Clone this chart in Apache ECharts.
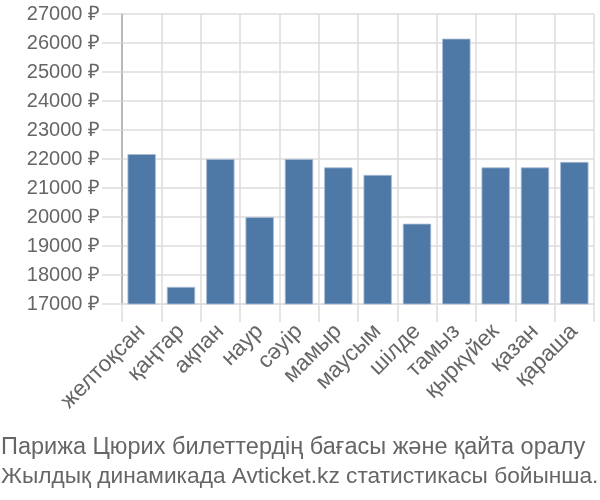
<!DOCTYPE html>
<html><head><meta charset="utf-8">
<script src="https://cdn.jsdelivr.net/npm/echarts@6/dist/echarts.min.js"></script>
<style>html,body{margin:0;padding:0;background:#fff}#c{width:600px;height:500px}</style>
</head><body><div id="c"></div>
<script>
const categories = ["желтоқсан","қаңтар","ақпан","наур","сәуір","мамыр","маусым","шілде","тамыз","қыркүйек","қазан","қараша"];
const prices = [22170, 17590, 22000, 20000, 22000, 21710, 21450, 19770, 26150, 21710, 21710, 21900];
const yMin = 17000, yMax = 27000, yStep = 1000;
const titleLines = ["Парижа Цюрих билеттердің бағасы және қайта оралу", "Жылдық динамикада Avticket.kz статистикасы бойынша."];

const chart = echarts.init(document.getElementById('c'), null, {renderer:'canvas'});
const font = '"Liberation Sans", Arial, sans-serif';
chart.setOption({
  animation: false,
  title: [
    {text: titleLines[0], left: 1, top: 436, padding: 0,
     textStyle: {fontFamily: font, fontSize: 23.5, fontWeight: 'normal', color: '#666'}},
    {text: titleLines[1], left: 1, top: 465, padding: 0,
     textStyle: {fontFamily: font, fontSize: 22.7, fontWeight: 'normal', color: '#666'}}
  ],
  grid: {left: 122, right: 6, top: 14, bottom: 196},
  xAxis: {
    type: 'category', data: categories,
    axisLine: {show: true, lineStyle: {color: '#ddd', width: 1.5}},
    axisTick: {show: true, length: 18, lineStyle: {color: '#ddd', width: 1.5}},
    splitLine: {show: true, lineStyle: {color: '#ddd', width: 1.5}},
    axisLabel: {rotate: 45, margin: 24, fontFamily: font, fontSize: 22.5, color: '#666', interval: 0}
  },
  yAxis: {
    type: 'value', min: yMin, max: yMax, interval: yStep,
    axisLine: {show: true, lineStyle: {color: '#aaa', width: 1.5}},
    axisTick: {show: true, length: 20, lineStyle: {color: '#ddd', width: 1.5}},
    splitLine: {show: true, lineStyle: {color: '#ddd', width: 1.5}},
    axisLabel: {formatter: v => v + ' ₽', margin: 22, fontFamily: font, fontSize: 20, color: '#666'}
  },
  series: [{
    type: 'bar', data: prices, barCategoryGap: '28%',
    itemStyle: {color: '#4e79a7', borderColor: '#a9bdd6', borderWidth: 0.8}
  }]
});
</script></body></html>
